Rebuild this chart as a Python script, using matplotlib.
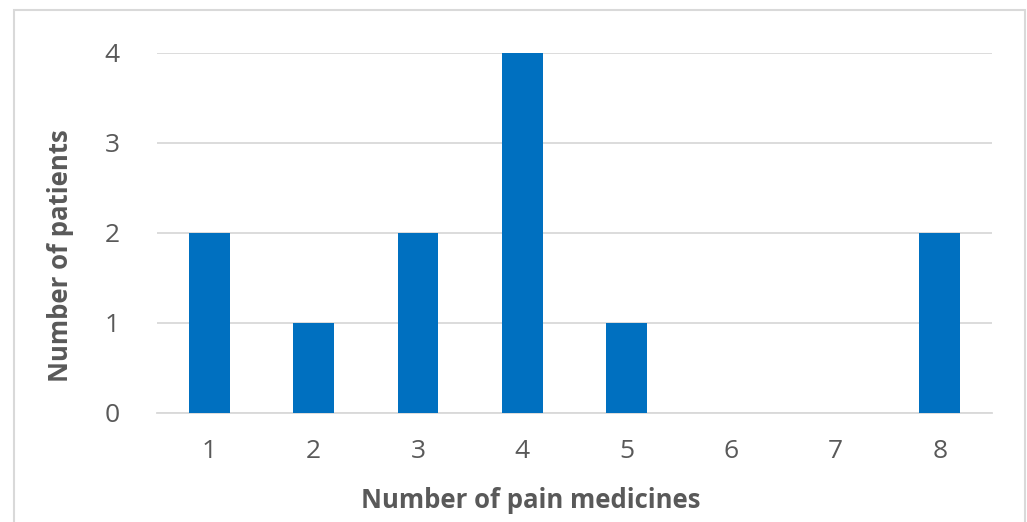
import matplotlib
matplotlib.use("Agg")
import matplotlib.pyplot as plt
from matplotlib.patches import Rectangle

categories = ["1", "2", "3", "4", "5", "6", "7", "8"]
patients = [2, 1, 2, 4, 1, 0, 0, 2]
y_ticks = [0, 1, 2, 3, 4]

plt.rcParams['font.family'] = ['Open Sans', 'DejaVu Sans']

W, H = 1027, 522
fig = plt.figure(figsize=(W/100, H/100), dpi=100)
ax = fig.add_axes([157/W, 1-413/H, (992-157)/W, (413-53)/H])

x = list(range(len(categories)))
ax.bar(x, patients, width=0.39, color="#0070C0", zorder=3)
ax.set_xlim(-0.5, len(categories)-0.5)
ax.set_ylim(0, 4)
ax.set_yticks(y_ticks)
ax.set_xticks(x)
ax.set_xticklabels(categories)
ax.grid(axis='y', color="#D9D9D9", linewidth=1.3, zorder=0)
for s in ["top", "right", "left"]:
    ax.spines[s].set_visible(False)
ax.spines["bottom"].set_color("#D9D9D9")
ax.spines["bottom"].set_linewidth(1.3)
ax.tick_params(axis='both', length=0, labelsize=19, labelcolor="#595959")
ax.tick_params(axis='x', pad=19)
ax.tick_params(axis='y', pad=27)

fig.text(531/W, 1-500/H, "Number of pain medicines", fontsize=18.5, fontweight='bold',
         color="#595959", ha='center', va='center')
fig.text(60/W, 1-256/H, "Number of patients", fontsize=18.5, fontweight='bold',
         color="#595959", ha='center', va='center', rotation=90)

fig.patches.append(Rectangle((14/W, -0.05), (1025-14)/W, 1+0.05-10/H, transform=fig.transFigure,
                             fill=False, edgecolor="#D9D9D9", linewidth=1.5))

fig.savefig("out.png", dpi=100)
